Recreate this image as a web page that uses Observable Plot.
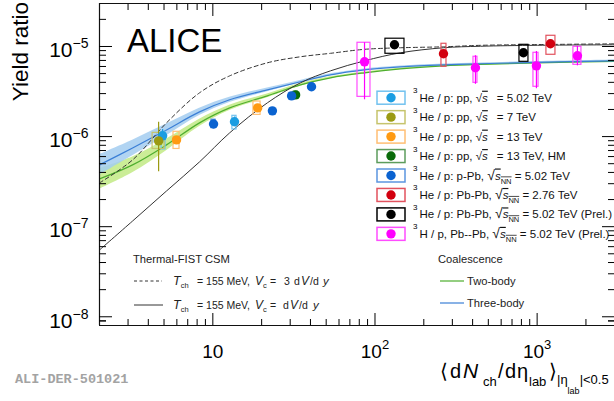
<!DOCTYPE html>
<html><head><meta charset="utf-8">
<script src="https://cdn.jsdelivr.net/npm/d3@7"></script>
<script src="https://cdn.jsdelivr.net/npm/@observablehq/plot@0.6"></script>
<style>html,body{margin:0;padding:0;background:#fff;} svg{display:block;}</style>
</head><body><div id="chart"></div>
<script>
const FONT = "'Liberation Sans', Arial, Helvetica, sans-serif";

// ---- axis ticks ----
const majorX = [10, 100, 1000];
const minorXMult = [2, 3, 4, 5, 6, 7, 8, 9];
const decadesX = [1, 10, 100, 1000];
const majorY = [1e-8, 1e-7, 1e-6, 1e-5];
const decadesY = [1e-9, 1e-8, 1e-7, 1e-6, 1e-5];
const minorYMult = [2, 3, 4, 5, 6, 7, 8, 9];

// ---- model curves (x grid shared) ----
const curveX   = [2.0, 3.2, 5.18, 8.28, 12.7, 21.7, 34.7, 53.2, 86.2, 143.6, 264.5, 447, 1004, 3000];
const csm3dV   = [3.06e-7, 5.51e-7, 1.42e-6, 3.06e-6, 4.72e-6, 6.59e-6, 7.69e-6, 8.4e-6, 9.3e-6, 9.68e-6, 9.92e-6, 1.03e-5, 1.05e-5, 1.07e-5];
const csm1dV   = [5.51e-8, 1.156e-7, 2.49e-7, 5.24e-7, 1.10e-6, 2.37e-6, 3.95e-6, 5.37e-6, 6.93e-6, 8.51e-6, 9.68e-6, 1.006e-5, 1.031e-5, 1.044e-5];
const coalThree = [4.85e-7, 7.48e-7, 1.186e-6, 1.88e-6, 2.56e-6, 3.30e-6, 4.06e-6, 4.85e-6, 5.51e-6, 5.95e-6, 6.26e-6, 6.43e-6, 6.67e-6, 6.93e-6];
const coalTwo   = [3.39e-7, 4.85e-7, 8.09e-7, 1.42e-6, 2.08e-6, 2.83e-6, 3.75e-6, 4.49e-6, 5.10e-6, 5.65e-6, 6.10e-6, 6.34e-6, 6.59e-6, 6.85e-6];
const coalRelUnc = [0.30, 0.22, 0.16, 0.10, 0.07, 0.05, 0.035, 0.025, 0.02, 0.02, 0.02, 0.02, 0.02, 0.02];

// ---- measurements: [x, y, statLo, statHi, sysXlo, sysXhi, sysYlo, sysYhi] ----
const pp502 = [
  [4.90, 1.02e-6, 8.5e-7, 1.2e-6, 4.83, 5.11, 7.2e-7, 1.13e-6],
  [13.6, 1.46e-6, 1.3e-6, 1.65e-6, 13.2, 14.0, 1.2e-6, 1.7e-6]
];
const pp7 = [
  [4.63, 8.95e-7, 4.06e-7, 1.44e-6, 4.25, 5.04, 7.29e-7, 1.10e-6]
];
const pp13 = [
  [5.97, 9.19e-7, 8.4e-7, 1.0e-6, 5.72, 6.23, 7.29e-7, 1.13e-6],
  [18.9, 2.08e-6, 1.95e-6, 2.2e-6, 17.8, 19.7, 1.74e-6, 2.45e-6]
];
const pp13HM = [
  [32.4, 2.90e-6, 2.8e-6, 3.0e-6, 31.5, 33.3, 2.65e-6, 3.15e-6]
];
const pPb502 = [
  [10.1, 1.38e-6, 1.3e-6, 1.46e-6, 9.8, 10.4, 1.24e-6, 1.54e-6],
  [23.3, 1.93e-6, 1.85e-6, 2.0e-6, 22.6, 24.0, 1.8e-6, 2.07e-6],
  [30.6, 2.83e-6, 2.73e-6, 2.93e-6, 29.7, 31.5, 2.6e-6, 3.05e-6],
  [40.6, 3.57e-6, 3.45e-6, 3.7e-6, 39.4, 41.8, 3.3e-6, 3.85e-6]
];
const PbPb276 = [
  [264.5, 8.30e-6, 7.9e-6, 8.7e-6, 257, 276, 5.95e-6, 1.072e-5],
  [1208, 1.072e-5, 1.03e-5, 1.12e-5, 1141, 1297, 8.09e-6, 1.315e-5]
];
const PbPb502 = [
  [131.9, 1.044e-5, 1.0e-5, 1.09e-5, 116, 152, 8.30e-6, 1.22e-5],
  [823, 8.51e-6, 8.2e-6, 8.8e-6, 778, 884, 6.76e-6, 1.044e-5]
];
const H3pPbPb502 = [
  [86.2, 6.76e-6, 2.56e-6, 1.10e-5, 78.0, 93.8, 2.76e-6, 1.10e-5],
  [416.5, 5.80e-6, 3.8e-6, 7.9e-6, 405, 428.5, 3.95e-6, 7.69e-6],
  [990, 6.10e-6, 3.4e-6, 8.8e-6, 949, 1020, 3.57e-6, 8.51e-6],
  [1772, 7.88e-6, 6.1e-6, 1.0e-5, 1674, 1876, 6.26e-6, 9.92e-6]
];

// series: data, marker colour, box colour, legend text parts
const series = [
  {data: pp502, dot: "#1b9de2", box: "#72c2ef", sys: "pp", tail: "= 5.02 TeV", head: "He / p: pp, "},
  {data: pp7, dot: "#9b9a12", box: "#c6c46c", sys: "pp", tail: "= 7 TeV", head: "He / p: pp, "},
  {data: pp13, dot: "#ff9a12", box: "#ffbf74", sys: "pp", tail: "= 13 TeV", head: "He / p: pp, "},
  {data: pp13HM, dot: "#0a6b0a", box: "#5c9c5c", sys: "pp", tail: "= 13 TeV, HM", head: "He / p: pp, "},
  {data: pPb502, dot: "#0b63d0", box: "#5b95df", sys: "NN", tail: " = 5.02 TeV", head: "He / p: p-Pb, "},
  {data: PbPb276, dot: "#d2000f", box: "#e2525e", sys: "NN", tail: " = 2.76 TeV", head: "He / p: Pb-Pb, "},
  {data: PbPb502, dot: "#000000", box: "#000000", sys: "NN", tail: " = 5.02 TeV (Prel.)", head: "He / p: Pb-Pb, "},
  {data: H3pPbPb502, dot: "#ff00ff", box: "#ff4cff", sys: "NN", tail: " = 5.02 TeV (Prel.)", head: "H / p, Pb--Pb, "}
];

const points = series.flatMap(s => s.data.map(r => ({
  x: r[0], y: r[1], lo: r[2], hi: r[3], sx1: r[4], sx2: r[5], sy1: r[6], sy2: r[7], dot: s.dot, box: s.box
})));
const curves = curveX.map((x, i) => ({
  x, d3: csm3dV[i], d1: csm1dV[i], three: coalThree[i], two: coalTwo[i], rel: coalRelUnc[i]
}));
const minorX = decadesX.flatMap(d => minorXMult.map(m => d * m)).filter(v => v > 2 && v < 3000);
const minorY = decadesY.flatMap(d => minorYMult.map(m => d * m)).concat([9e-9]).filter(v => v > 8e-9 && v < 3e-5);

const expo = d => String(Math.round(Math.log10(d)));

const svg = Plot.plot({
  width: 614, height: 401,
  marginLeft: 99, marginRight: 0, marginTop: 3, marginBottom: 76,
  x: {type: "log", domain: [2, 3000]},
  y: {type: "log", domain: [8e-9, 3e-5]},
  color: {type: "identity"},
  style: {fontFamily: FONT, background: "white", color: "black"},
  marks: [
    Plot.areaY(curves, {x: "x", y1: d => d.two / (1 + d.rel), y2: d => d.two * (1 + d.rel), fill: "#cbed97", curve: "catmull-rom", clip: true}),
    Plot.areaY(curves, {x: "x", y1: d => d.three / (1 + d.rel), y2: d => d.three * (1 + d.rel), fill: "#a3ccf0", fillOpacity: 0.85, curve: "catmull-rom", clip: true}),
    Plot.lineY(curves, {x: "x", y: "two", stroke: "#4eae2e", strokeWidth: 1.2, curve: "catmull-rom", clip: true}),
    Plot.lineY(curves, {x: "x", y: "three", stroke: "#3b7fd6", strokeWidth: 1.2, curve: "catmull-rom", clip: true}),
    Plot.lineY(curves, {x: "x", y: "d3", stroke: "#333", strokeWidth: 1, strokeDasharray: "4,3", curve: "catmull-rom", clip: true}),
    Plot.lineY(curves, {x: "x", y: "d1", stroke: "#333", strokeWidth: 1, curve: "catmull-rom", clip: true}),
    Plot.rect(points, {x1: "sx1", x2: "sx2", y1: "sy1", y2: "sy2", stroke: "box", fill: "none", strokeWidth: 1.2}),
    Plot.ruleX(points, {x: "x", y1: "lo", y2: "hi", stroke: "dot", strokeWidth: 1.2}),
    Plot.dot(points, {x: "x", y: "y", r: 4.7, fill: "dot", stroke: "none"}),
    // frame
    Plot.ruleY([8e-9], {stroke: "#111", strokeWidth: 1.2}),
    Plot.ruleY([3e-5], {stroke: "#111", strokeWidth: 1.2}),
    Plot.ruleX([2], {stroke: "#111", strokeWidth: 1.2}),
    // ticks (inward)
    Plot.axisX({anchor: "bottom", ticks: majorX, tickSize: -12, tickFormat: () => "", label: null}),
    Plot.axisX({anchor: "bottom", ticks: minorX, tickSize: -6, tickFormat: () => "", label: null}),
    Plot.axisX({anchor: "top", ticks: majorX, tickSize: -12, tickFormat: () => "", label: null}),
    Plot.axisX({anchor: "top", ticks: minorX, tickSize: -6, tickFormat: () => "", label: null}),
    Plot.axisY({anchor: "left", ticks: majorY, tickSize: -13, tickFormat: () => "", label: null}),
    Plot.axisY({anchor: "left", ticks: minorY, tickSize: -7, tickFormat: () => "", label: null}),
    Plot.axisY({anchor: "right", ticks: majorY, tickSize: -13, tickFormat: () => "", label: null}),
    Plot.axisY({anchor: "right", ticks: minorY, tickSize: -7, tickFormat: () => "", label: null}),
    // tick labels
    Plot.axisX({anchor: "bottom", ticks: majorX, tickSize: 0, tickPadding: 19, tickFormat: expo, fontSize: 19, label: null}),
    Plot.axisY({anchor: "left", ticks: majorY, tickSize: 0, tickPadding: 11, tickFormat: expo, fontSize: 21, dy: 4, label: null})
  ]
});
document.getElementById("chart").appendChild(svg);

const S = d3.select(svg);
// superscript exponents on tick labels (x: positive exponents, y: negative)
S.selectAll("text").each(function () {
  const e = this.textContent.trim();
  if (!/^[-\u2212]?\d$/.test(e)) return;
  const t = d3.select(this);
  t.selectAll("*").remove();
  t.text(null);
  t.append("tspan").text("10");
  if (/^[-\u2212]/.test(e)) {
    t.append("tspan").attr("dy", -9).attr("font-size", 14).text("\u2212" + e.slice(1));
  } else if (e !== "1") {
    t.append("tspan").attr("dy", -9).attr("font-size", 13).text(e);
  }
});

function rich(x, y, size, parts, fill) {
  const t = S.append("text").attr("x", x).attr("y", y).attr("font-family", FONT)
    .attr("text-anchor", "start").attr("font-size", size).attr("fill", fill || "#000")
    .style("white-space", "pre");
  let shift = 0;
  for (const p of parts) {
    const ts = t.append("tspan").text(p.t);
    const target = p.shift || 0;
    if (target !== shift) { ts.attr("dy", target - shift); shift = target; }
    if (p.x != null) ts.attr("x", p.x);
    if (p.dx != null) ts.attr("dx", p.dx);
    if (p.size) ts.attr("font-size", p.size);
    if (p.it) ts.attr("font-style", "italic");
    if (p.ol) ts.style("text-decoration", "overline");
  }
  return t;
}

// ALICE label
S.append("text").attr("x", 127).attr("y", 52).attr("text-anchor", "start").attr("font-family", FONT).attr("font-size", 33).text("ALICE");
// figure id
S.append("text").attr("x", 15).attr("y", 383).attr("text-anchor", "start").attr("font-family", "'Liberation Mono', 'DejaVu Sans Mono', monospace")
  .attr("font-weight", "bold").attr("font-size", 13.5).attr("fill", "#a3a3a3").text("ALI-DER-501021");
// y title
S.append("text").attr("transform", "translate(28,2) rotate(-90)").attr("text-anchor", "end")
  .attr("font-family", FONT).attr("font-size", 22.5).text("Yield ratio");
// x title
rich(440, 378, 20, [
  {t: "\u27e8"}, {t: "d", x: 450}, {t: "N", it: true, x: 463, size: 21},
  {t: "ch", size: 13, shift: 8, x: 483},
  {t: "/", shift: 0, x: 498}, {t: "d", x: 505}, {t: "\u03b7", x: 517},
  {t: "lab", size: 13, shift: 8, x: 529},
  {t: "\u27e9", shift: 0, x: 549},
  {t: "|\u03b7", size: 13, shift: 6, x: 557},
  {t: "lab", size: 9, shift: 16},
  {t: "|<0.5", size: 13, shift: 6}
]);

// data legend
series.forEach((s, i) => {
  const cy = 97.7 + 19.45 * i;
  S.append("rect").attr("x", 377).attr("y", cy - 6.5).attr("width", 28).attr("height", 13)
    .attr("fill", "white").attr("stroke", s.box).attr("stroke-width", 1.5);
  S.append("circle").attr("cx", 391).attr("cy", cy).attr("r", 4.7).attr("fill", s.dot);
  S.append("text").attr("x", 413).attr("y", cy - 4.5).attr("text-anchor", "start").attr("font-family", FONT).attr("font-size", 8).text("3");
  const parts = [{t: s.head}];
  if (s.sys === "pp") {
    parts.push({t: "\u221a"}, {t: "s", it: true, ol: true}, {t: s.tail, dx: 9});
  } else {
    parts.push({t: "\u221a", size: 14}, {t: "s", it: true, ol: true}, {t: "NN", size: 7.5, shift: 4, ol: true}, {t: s.tail, shift: 0});
  }
  rich(419.5, cy + 4, 11.5, parts, "#111");
});

// Thermal-FIST legend
rich(133, 263, 11.2, [{t: "Thermal-FIST CSM"}], "#222");
S.append("line").attr("x1", 134).attr("x2", 162).attr("y1", 281).attr("y2", 281).attr("stroke", "#333").attr("stroke-dasharray", "3,2.5");
S.append("line").attr("x1", 134).attr("x2", 163).attr("y1", 305).attr("y2", 305).attr("stroke", "#333");
const csmRow = (y, parts) => rich(173, y, 10.5, [
  {t: "T", it: true, size: 12.5}, {t: "ch", size: 7.5, shift: 3}, {t: "= 155 MeV,", shift: 0, x: 197},
  {t: "V", it: true, size: 12, x: 255}, {t: "c", size: 7.5, shift: 3}, {t: "=", shift: 0, x: 270}
].concat(parts), "#222");
csmRow(285, [{t: "3", x: 284}, {t: "d", x: 294}, {t: "V", it: true, size: 12, x: 301}, {t: "/d", x: 310}, {t: "y", it: true, size: 11.5, x: 323}]);
csmRow(309, [{t: "d", x: 283}, {t: "V", it: true, size: 12, x: 290}, {t: "/d", x: 299}, {t: "y", it: true, size: 11.5, x: 313}]);

// Coalescence legend
rich(438, 263, 11.2, [{t: "Coalescence"}], "#222");
S.append("line").attr("x1", 440).attr("x2", 464).attr("y1", 281).attr("y2", 281).attr("stroke", "#4eae2e").attr("stroke-width", 1.2);
S.append("line").attr("x1", 440).attr("x2", 464).attr("y1", 303).attr("y2", 303).attr("stroke", "#3b7fd6").attr("stroke-width", 1.2);
rich(467, 285, 11.2, [{t: "Two-body"}], "#222");
rich(467, 307, 11.2, [{t: "Three-body"}], "#222");
</script>
</body></html>
